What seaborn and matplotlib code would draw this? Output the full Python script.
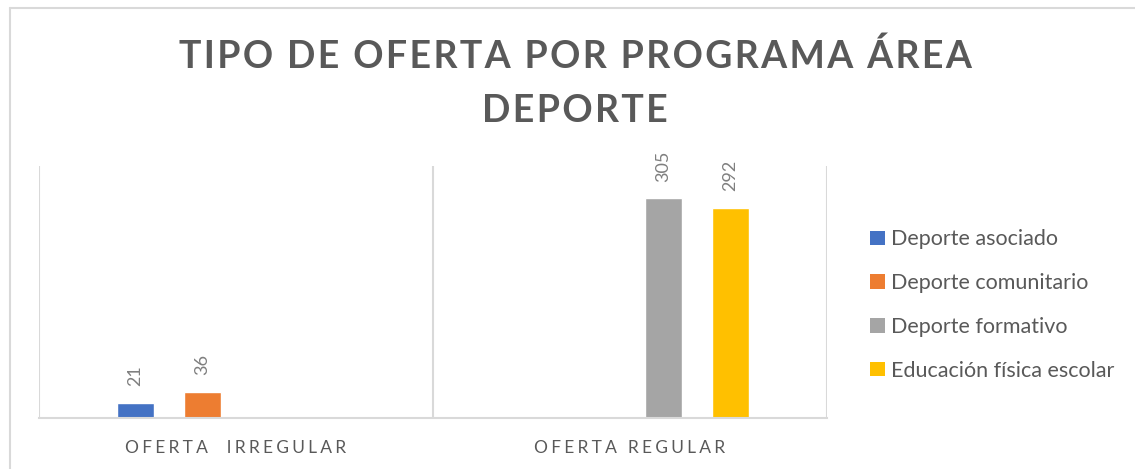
import pandas as pd
import numpy as np
import matplotlib
matplotlib.use("Agg")
import matplotlib.pyplot as plt
from matplotlib.patches import Patch
from matplotlib.lines import Line2D
import seaborn as sns

#   ____________________________________________________________________________
#   data                                                                    ####

categorias = ["OFERTA  IRREGULAR", "OFERTA REGULAR"]
programas = ["Deporte asociado", "Deporte comunitario",
             "Deporte formativo", "Educación física escolar"]
oferta_irregular = [21, 36, None, None]
oferta_regular = [None, None, 305, 292]
colores = ["#4472C4", "#ED7D31", "#A5A5A5", "#FFC000"]

titulo = ["TIPO DE OFERTA POR PROGRAMA ÁREA", "DEPORTE"]

#   ____________________________________________________________________________
#   helpers                                                                 ####

def espaciado(texto, sep="\u2009"):
    # fake letter spacing with thin spaces between characters
    return sep.join(list(texto))

rows = []
for cat, vals in zip(categorias, [oferta_irregular, oferta_regular]):
    for prog, v in zip(programas, vals):
        if v is not None:
            rows.append({"categoria": cat, "programa": prog, "valor": v})
df = pd.DataFrame(rows)

#   ____________________________________________________________________________
#   plot                                                                    ####

sns.set_theme(style="white")
plt.rcParams["font.family"] = ["Lato", "DejaVu Sans"]

W, H = 1135, 469
fig = plt.figure(figsize=(W / 100, H / 100), dpi=100)
ax = fig.add_axes([39 / W, 1 - 418 / H, (827 - 39) / W, (418 - 166) / H])

sns.barplot(data=df, x="categoria", y="valor", hue="programa",
            order=categorias, hue_order=programas, palette=colores,
            saturation=1, width=0.68, gap=0.46, dodge=True, legend=False,
            ax=ax)

for cont in ax.containers:
    ax.bar_label(cont, fmt="%d", rotation=90, padding=12,
                 color="#7F7F7F", fontsize=13)

ax.set_xlim(-0.5, 1.5)
ax.set_ylim(0, 350)
ax.set_yticks([])
ax.set_xlabel("")
ax.set_ylabel("")
for s in ["top", "right", "left"]:
    ax.spines[s].set_visible(False)
ax.spines["bottom"].set_color("#D9D9D9")
ax.spines["bottom"].set_linewidth(1.5)
for xv in [-0.5, 0.5, 1.5]:
    ax.axvline(xv, color="#D9D9D9", lw=1.5, zorder=0)

ax.set_xticks(range(len(categorias)))
ax.set_xticklabels([espaciado(c, "\u2009\u200a") for c in categorias],
                   color="#595959", fontsize=12.5)
ax.tick_params(axis="x", length=0, pad=16)

# title
for i, linea in enumerate(titulo):
    fig.text(575 / W, 1 - (68 + 54 * i) / H, espaciado(linea, "\u200a"),
             ha="center", va="baseline", fontsize=27, fontweight="bold",
             color="#595959")

# legend
handles = [Patch(facecolor=c, edgecolor="none") for c in colores]
fig.legend(handles, programas, loc="center left",
           bbox_to_anchor=(851 / W, 1 - 305 / H), frameon=False,
           fontsize=15.5, labelcolor="#595959", handlelength=0.66,
           handleheight=0.66, handletextpad=0.3, labelspacing=1.1)

# outer chart border
fig.add_artist(Line2D([10 / W, 1], [1 - 8 / H, 1 - 8 / H], color="#D9D9D9",
                      lw=1.5, transform=fig.transFigure))
fig.add_artist(Line2D([10 / W, 10 / W], [0, 1 - 8 / H], color="#D9D9D9",
                      lw=1.5, transform=fig.transFigure))

fig.savefig("out.png", dpi=100)
